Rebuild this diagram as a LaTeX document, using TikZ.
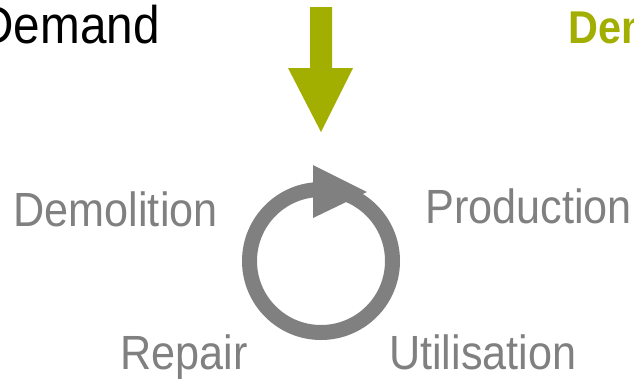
\documentclass[tikz,border=0pt]{standalone}
\usepackage{fontspec}
\setsansfont{Liberation Sans}
\usepackage{tikz}
\usetikzlibrary{positioning}
\definecolor{demandgreen}{HTML}{A3AF00}
\definecolor{cyclegrey}{HTML}{808080}
\newcommand{\narrowtext}[1]{\scalebox{0.9}[1]{#1}}

\begin{document}
\begin{tikzpicture}[
  x=1pt, y=-1pt,
  font=\sffamily,
  lbl/.style={text=cyclegrey, inner sep=0pt, anchor=base west,
              font=\sffamily\fontsize{48}{50}\selectfont},
  ring/.style={circle, draw=cyclegrey, line width=15pt, minimum size=143pt, inner sep=0pt},
  bigarr/.style={fill=demandgreen, draw=none}
]
  \clip (0,0) rectangle (634,381);

  % top texts
  \node[inner sep=0pt, anchor=base east, font=\sffamily\fontsize{53}{55}\selectfont] (dleft) at (160,43.5) {\narrowtext{Demand}};
  \node[inner sep=0pt, anchor=base west, text=demandgreen, font=\sffamily\bfseries\fontsize{46}{48}\selectfont] (dright) at (568.5,43.3) {\narrowtext{Demand}};

  % demand arrow
  \fill[bigarr] (310,7) -- (332,7) -- (332,68) -- (353,68) -- (321,132) -- (288,68) -- (310,68) -- cycle;

  % life cycle
  \node[ring] (cycle) at (321,261) {};
  \fill[cyclegrey] (313,165) -- (367,192) -- (313,218) -- cycle;

  \node[lbl] (demolition) at (13.4,226) {\narrowtext{Demolition}};
  \node[lbl] (production) at (425,223) {\narrowtext{Production}};
  \node[lbl] (repair) at (120,369) {\narrowtext{Repair}};
  \node[lbl] (utilisation) at (389,369) {\narrowtext{Utilisation}};
\end{tikzpicture}
\end{document}
